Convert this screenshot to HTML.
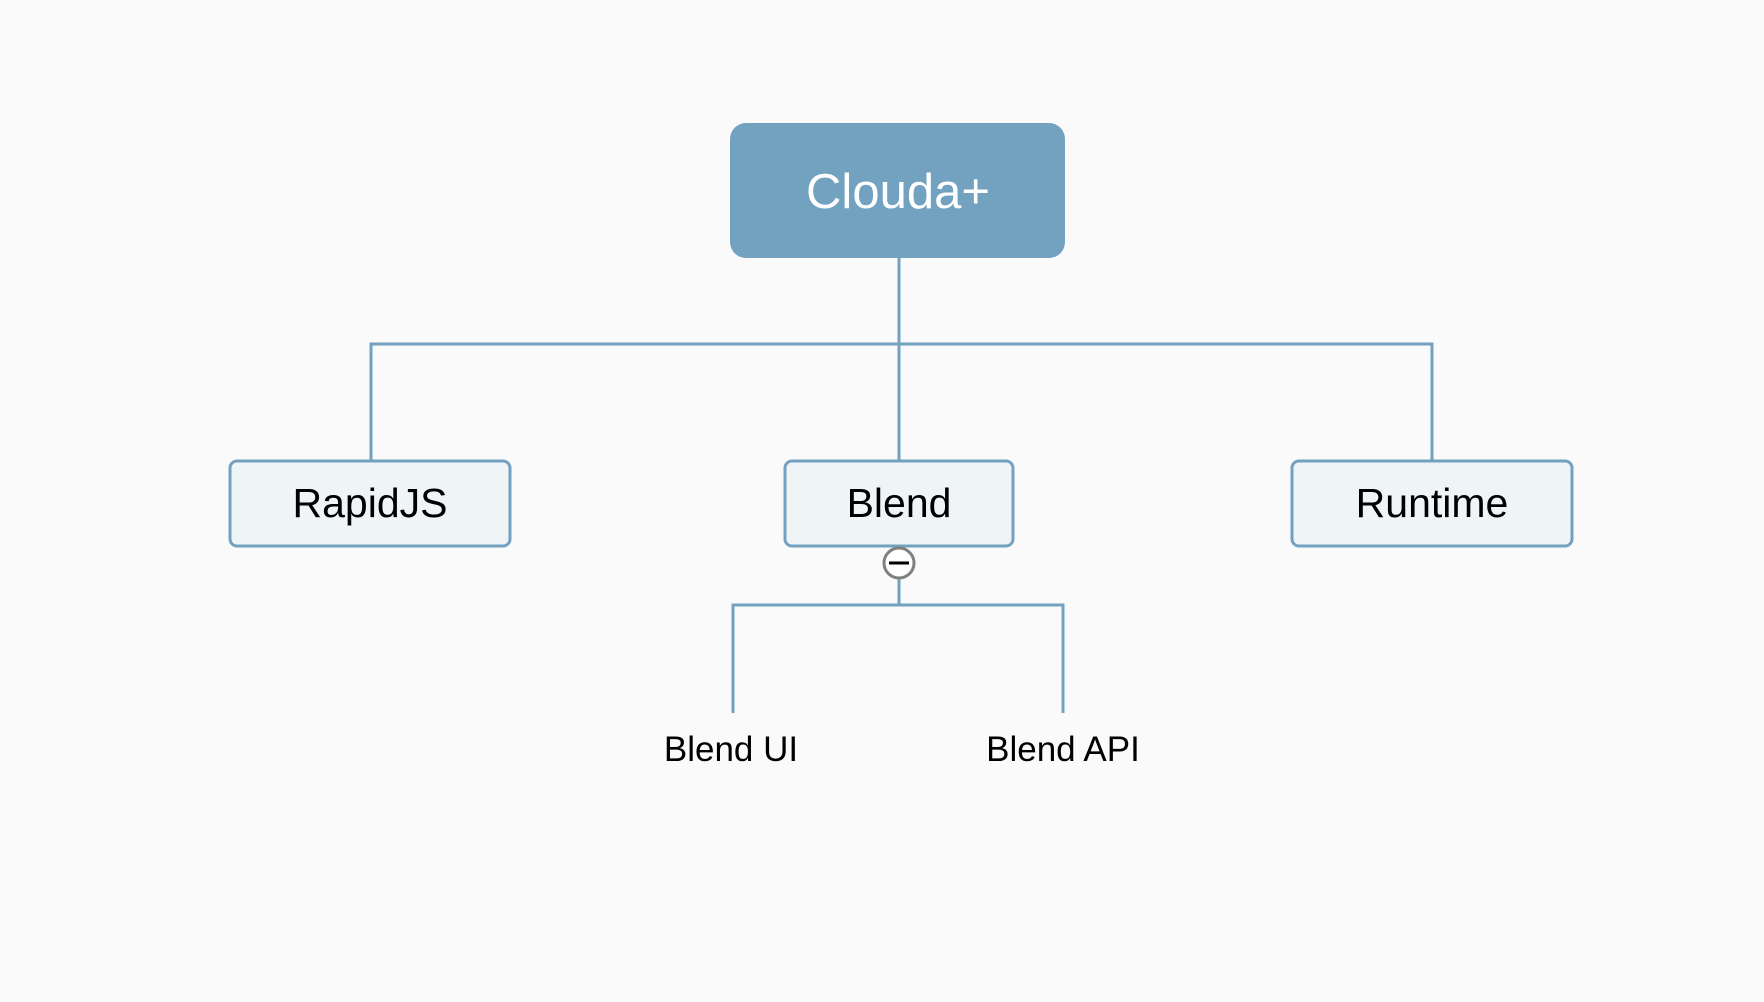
<!DOCTYPE html>
<html><head><style>
html,body{margin:0;padding:0;background:#fafafa;}
svg{display:block}
text{font-family:"Liberation Sans",Arial,sans-serif;}
</style></head><body>
<svg width="1764" height="1002" viewBox="0 0 1764 1002">
<rect width="1764" height="1002" fill="#fafafa"/>
<g stroke="#73a2c1" stroke-width="3" fill="none">
<line x1="899" y1="258" x2="899" y2="461"/>
<polyline points="371,461 371,344 1432,344 1432,461"/>
<line x1="899" y1="577" x2="899" y2="605"/>
<polyline points="733,713 733,605 1063,605 1063,713"/>
</g>
<rect x="730" y="123" width="335" height="135" rx="16" fill="#73a2c1"/>
<text x="898" y="208" font-size="49" fill="#fff" text-anchor="middle">Clouda+</text>
<g fill="#eff4f7" stroke="#73a2c1" stroke-width="3">
<rect x="230" y="461" width="280" height="85" rx="7"/>
<rect x="785" y="461" width="228" height="85" rx="7"/>
<rect x="1292" y="461" width="280" height="85" rx="7"/>
</g>
<g font-size="41" fill="#000" text-anchor="middle">
<text x="370" y="517">RapidJS</text>
<text x="899" y="517">Blend</text>
<text x="1432" y="517">Runtime</text>
</g>
<circle cx="899" cy="563" r="15" fill="#fff" stroke="#808080" stroke-width="3"/>
<line x1="889" y1="563" x2="909" y2="563" stroke="#000" stroke-width="3"/>
<g font-size="35" fill="#000" text-anchor="middle">
<text x="731" y="761">Blend UI</text>
<text x="1063" y="761">Blend API</text>
</g>
</svg>
</body></html>
